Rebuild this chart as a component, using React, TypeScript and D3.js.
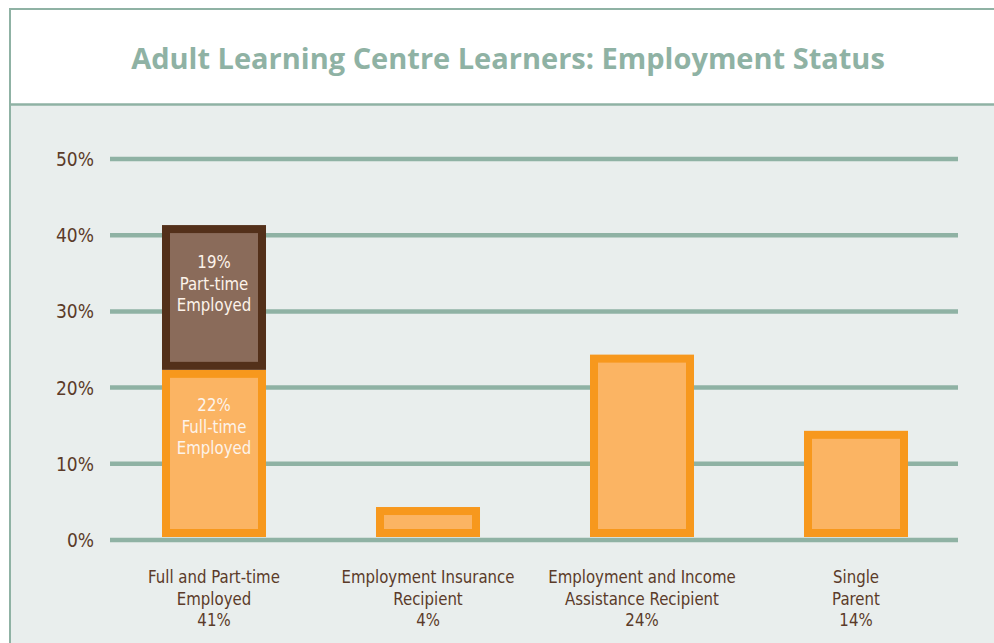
import React from "react";
import * as d3 from "d3";

const categories = ["Full and Part-time|Employed", "Employment Insurance|Recipient", "Employment and Income|Assistance Recipient", "Single|Parent"];
const totals = [41, 4, 24, 14];
const fullTime = [22, 4, 24, 14];
const partTime = [19, 0, 0, 0];
const yTicks = [0, 10, 20, 30, 40, 50];
const segLabels = [
  { v: 19, lines: ["19%", "Part-time", "Employed"] },
  { v: 22, lines: ["22%", "Full-time", "Employed"] },
];

const W = 994, H = 643;
const title = "Adult Learning Centre Learners: Employment Status";
const FONT = "'DejaVu Sans Condensed', 'DejaVu Sans', sans-serif";

export default function App() {
  const x = d3.scaleBand<number>().domain(d3.range(categories.length)).range([107, 963]).paddingInner(0.514).paddingOuter(0.257);
  const y = d3.scaleLinear().domain([0, 50]).range([540, 159]);
  const bw = x.bandwidth();
  const green = "#8fb2a4";
  const brown = "#5b3b29";
  const oOut = "#f7981d", oIn = "#fbb463";
  const bOut = "#53301a", bIn = "#8a6b5a";
  const ext = 2.5, inset = 8;
  const seg = (x0: number, top: number, bot: number, outer: string, inner: string, key: string) => (
    <g key={key}>
      <rect x={x0} y={top} width={bw} height={bot - top} fill={outer} />
      <rect x={x0 + inset} y={top + inset} width={bw - 2 * inset} height={bot - top - 2 * inset} fill={inner} />
    </g>
  );
  const narrowText = (key: string, cx: number, yy: number, s: string, fill: string) => (
    <text key={key} transform={`translate(${cx},${yy}) scale(0.9,1)`} textAnchor="middle" fontFamily={FONT} fontSize={18.5} fill={fill}>{s}</text>
  );
  return (
    <svg width={W} height={H} style={{ position: "absolute", left: 0, top: 0 }}>
      <rect x={0} y={0} width={W} height={H} fill="#ffffff" />
      <rect x={10} y={105} width={W} height={H} fill="#e9eeed" />
      <line x1={10} y1={9} x2={W} y2={9} stroke={green} strokeWidth={2} />
      <line x1={10} y1={104.5} x2={W} y2={104.5} stroke={green} strokeWidth={2.5} />
      <line x1={10} y1={8} x2={10} y2={H} stroke={green} strokeWidth={2} />
      <text x={508} y={69} textAnchor="middle" fontFamily="'Open Sans', sans-serif" fontWeight="bold" fontSize={29} fill={green}>{title}</text>
      {yTicks.map((t) => (
        <g key={t}>
          <line x1={110} x2={958} y1={y(t)} y2={y(t)} stroke={green} strokeWidth={4.5} />
          <text x={94} y={y(t) + 7} textAnchor="end" fontFamily={FONT} fontSize={19} fill={brown}>{t}%</text>
        </g>
      ))}
      {categories.map((c, i) => {
        const x0 = x(i)!;
        const bot = y(0) - 3;
        const ftTop = y(fullTime[i]) - ext;
        const out = [seg(x0, ftTop, bot, oOut, oIn, "f" + i)];
        if (partTime[i] > 0) {
          out.push(seg(x0, y(totals[i]) - ext, ftTop, bOut, bIn, "p" + i));
        }
        return <g key={c}>{out}</g>;
      })}
      {segLabels.map((s, k) => {
        const cx = x(0)! + bw / 2;
        const startY = k === 0 ? 268 : 411;
        return s.lines.map((l, j) => narrowText(k + "-" + j, cx, startY + j * 21.5, l, "#fdf3ea"));
      })}
      {categories.map((c, i) => {
        const cx = x(i)! + bw / 2;
        const lines = [...c.split("|"), totals[i] + "%"];
        return lines.map((l, j) => narrowText(i + "-" + j, cx, 583 + j * 21.5, l, brown));
      })}
    </svg>
  );
}
